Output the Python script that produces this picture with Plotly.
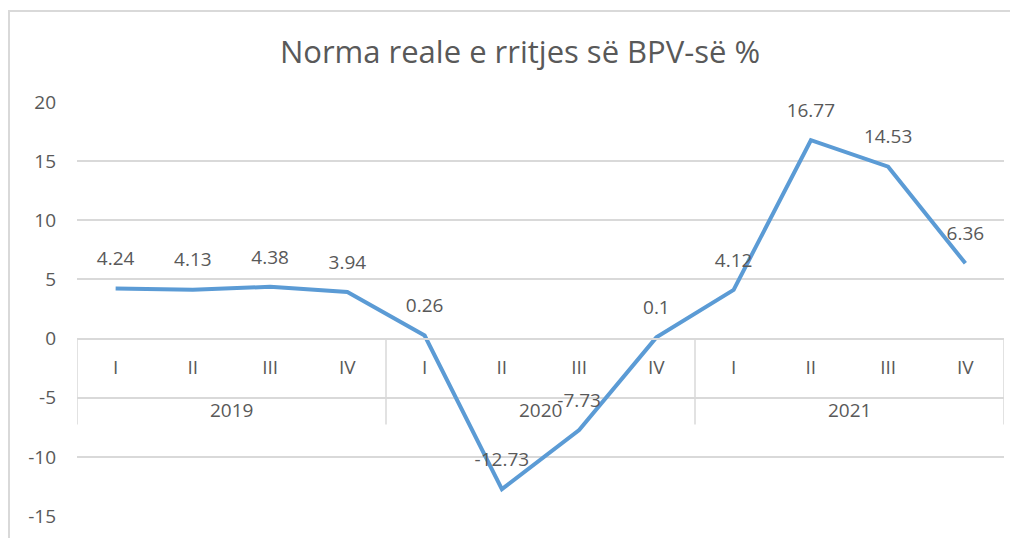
import plotly.graph_objects as go

years = ["2019"] * 4 + ["2020"] * 4 + ["2021"] * 4
quarters = ["I", "II", "III", "IV"] * 3
values = [4.24, 4.13, 4.38, 3.94, 0.26, -12.73, -7.73, 0.1, 4.12, 16.77, 14.53, 6.36]
labels = ["4.24", "4.13", "4.38", "3.94", "0.26", "-12.73", "-7.73", "0.1", "4.12", "16.77", "14.53", "6.36"]
title_text = "Norma reale e rritjes së BPV-së %"
y_ticks = [-15, -10, -5, 0, 5, 10, 15, 20]

# page body has an 8px margin, so figure coords = window coords - 8
OFF = 8
W, H = 1018 - OFF, 538 - OFF
L, R, T, B = 77 - OFF, 1004 - OFF, 102 - OFF, 516 - OFF
ymin, ymax = -15, 20
FONT = "Open Sans"
TXT = "#595959"
GRID = "#D9D9D9"

def px(x):
    return (x - OFF - L) / (R - L)

def py(y):
    return (B - (y - OFF)) / (B - T)

xs = list(range(len(values)))

fig = go.Figure()
fig.add_trace(go.Scatter(
    x=xs, y=values, mode="lines+markers+text",
    line=dict(color="#5B9BD5", width=4),
    marker=dict(size=28, color="rgba(0,0,0,0)"),
    text=labels, textposition="top center",
    textfont=dict(family=FONT, size=19, color=TXT),
    cliponaxis=False,
    customdata=[f"{q} {y}" for q, y in zip(quarters, years)],
    hovertemplate="%{customdata}: %{y}<extra></extra>",
))

zero_pos = (0 - ymin) / (ymax - ymin)

# year group labels and dividers
groups = []
for i, y in enumerate(years):
    if not groups or groups[-1][0] != y:
        groups.append([y, i, i])
    else:
        groups[-1][2] = i

annotations = []
shapes = []
for name, a, b in groups:
    annotations.append(dict(x=(a + b) / 2, y=0, xref="x", yref="y", text=name,
                            showarrow=False, yshift=-71, yanchor="middle",
                            font=dict(family=FONT, size=19, color=TXT)))
bounds = [groups[0][1] - 0.5] + [g[2] + 0.5 for g in groups]
for bx in bounds:
    shapes.append(dict(type="line", xref="x", yref="y", ysizemode="pixel", yanchor=0,
                       x0=bx, x1=bx, y0=0, y1=-86,
                       line=dict(color=GRID, width=1.5)))

# chart area border (top and left)
shapes.append(dict(type="line", xref="paper", yref="paper",
                   x0=px(8), x1=px(1030), y0=py(11), y1=py(11),
                   line=dict(color=GRID, width=2)))
shapes.append(dict(type="line", xref="paper", yref="paper",
                   x0=px(9), x1=px(9), y0=py(11), y1=py(560),
                   line=dict(color=GRID, width=2)))

fig.update_layout(
    width=W, height=H,
    margin=dict(l=L, r=W - R, t=T, b=H - B, autoexpand=False),
    paper_bgcolor="white", plot_bgcolor="white",
    showlegend=False,
    title=dict(text=title_text, x=(520 - OFF) / W, xref="container", xanchor="center",
               y=1 - (52 - OFF) / H, yref="container", yanchor="middle",
               font=dict(family=FONT, size=31, color=TXT)),
    xaxis=dict(anchor="free", position=zero_pos, range=[-0.5, len(values) - 0.5],
               tickvals=xs, ticktext=quarters,
               showline=True, linecolor=GRID, linewidth=1.5,
               ticks="outside", ticklen=12, tickcolor="rgba(0,0,0,0)",
               showgrid=False, zeroline=False, automargin=False,
               tickfont=dict(family=FONT, size=19, color=TXT)),
    yaxis=dict(range=[ymin, ymax], tickvals=y_ticks,
               ticktext=[str(v) for v in y_ticks], showgrid=True,
               gridcolor=GRID, gridwidth=1.5, zeroline=False, showline=False,
               ticks="", automargin=False,
               tickfont=dict(family=FONT, size=19, color=TXT),
               ticklabelstandoff=20),
    annotations=annotations,
    shapes=shapes,
)

fig.write_html("out.html")
